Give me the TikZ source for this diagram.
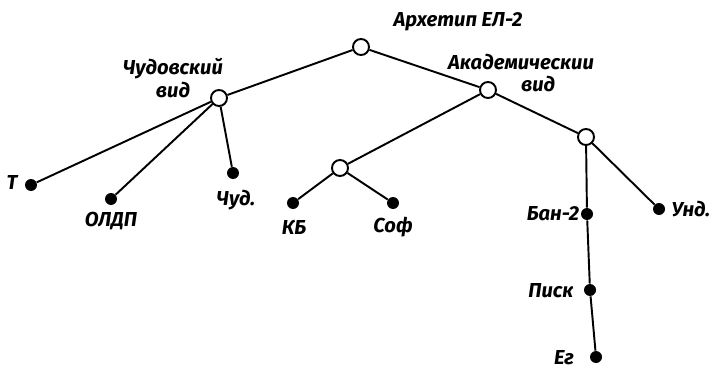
\documentclass[tikz,border=0pt]{standalone}
\usepackage{fontspec}
\setmainfont{Fira Sans}
\tikzset{
  open/.style={circle, draw, line width=1.1pt, fill=white, inner sep=0pt, minimum size=0.32cm},
  leaf/.style={circle, fill=black, inner sep=0pt, minimum size=0.24cm},
  edge/.style={line width=1.1pt},
  txt/.style={font=\fontsize{11.5}{13}\selectfont\itshape\bfseries, inner sep=0pt, align=center}
}
\begin{document}
\begin{tikzpicture}[x=0.02cm, y=-0.02cm]
    \useasboundingbox (0,0) rectangle (714,372);

    % inner nodes
    \node[open] (arch) at (361,47) {};
    \node[open] (chud) at (219,98) {};
    \node[open] (akad) at (488,90) {};
    \node[open] (kbsof) at (340,168) {};
    \node[open] (ban) at (586,137) {};

    % witnesses
    \node[leaf] (t) at (31,185) {};
    \node[leaf] (oldp) at (111,199) {};
    \node[leaf] (chd) at (233,173) {};
    \node[leaf] (kb) at (293,203) {};
    \node[leaf] (sof) at (393,203) {};
    \node[leaf] (ban2) at (587,214) {};
    \node[leaf] (und) at (659,209) {};
    \node[leaf] (pisk) at (590,290) {};
    \node[leaf] (eg) at (596,357) {};

    \draw[edge] (arch) -- (chud);
    \draw[edge] (arch) -- (akad);
    \draw[edge] (chud) -- (t);
    \draw[edge] (chud) -- (oldp);
    \draw[edge] (chud) -- (chd);
    \draw[edge] (akad) -- (kbsof);
    \draw[edge] (akad) -- (ban);
    \draw[edge] (kbsof) -- (kb);
    \draw[edge] (kbsof) -- (sof);
    \draw[edge] (ban) -- (ban2);
    \draw[edge] (ban) -- (und);
    \draw[edge] (ban2) -- (pisk);
    \draw[edge] (pisk) -- (eg);

    % labels
    \node[txt] (larch) at (458,22) {Архетип ЕЛ-2};
    \node[txt] (lchud) at (173,78) {Чудовский\\вид};
    \node[txt] (lakad) at (521,73) {Академическии\\\hspace{1.7em}вид};
    \node[txt] (lt) at (12,182) {Т};
    \node[txt] (loldp) at (111,221) {ОЛДП};
    \node[txt] (lchd) at (236,200) {Чуд.};
    \node[txt] (lkb) at (294,227) {КБ};
    \node[txt] (lsof) at (393,227) {Соф};
    \node[txt] (lban2) at (553,214) {Бан-2};
    \node[txt] (lund) at (691,209) {Унд.};
    \node[txt] (lpisk) at (551,291) {Писк};
    \node[txt] (leg) at (564,358) {Ег};
\end{tikzpicture}
\end{document}
